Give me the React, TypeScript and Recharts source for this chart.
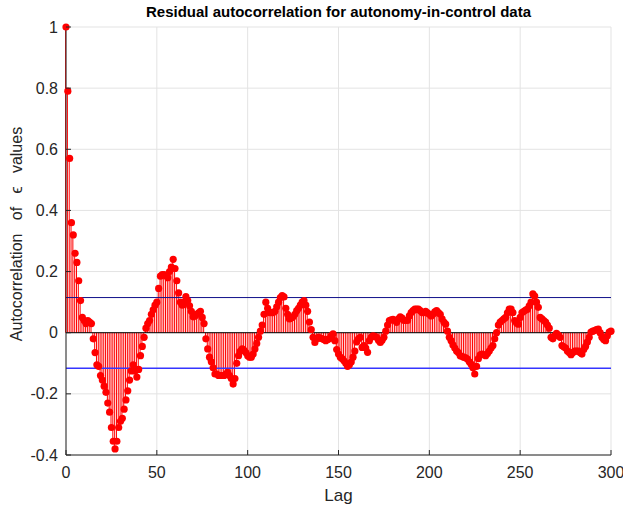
import React from "react";
import { ComposedChart, Bar, Line, XAxis, YAxis, CartesianGrid, ReferenceLine } from "recharts";

const acf0to49 = [
  1.0, 0.79, 0.57, 0.36, 0.32, 0.26, 0.23, 0.17, 0.105, 0.05,
  0.04, 0.03, 0.04, 0.035, 0.03, -0.02, -0.065, -0.105, -0.11, -0.14,
  -0.155, -0.175, -0.195, -0.23, -0.26, -0.31, -0.355, -0.38, -0.355, -0.31,
  -0.29, -0.28, -0.25, -0.22, -0.19, -0.155, -0.125, -0.105, -0.125, -0.145,
  -0.12, -0.075, -0.045, -0.015, 0.015, 0.03, 0.04, 0.06, 0.075, 0.09,
];
const acf50to99 = [
  0.1, 0.145, 0.185, 0.19, 0.19, 0.187, 0.18, 0.2, 0.215, 0.24,
  0.21, 0.17, 0.13, 0.1, 0.09, 0.1, 0.118, 0.105, 0.088, 0.07,
  0.052, 0.055, 0.06, 0.065, 0.07, 0.05, 0.03, -0.02, -0.053, -0.08,
  -0.095, -0.115, -0.135, -0.135, -0.14, -0.14, -0.14, -0.14, -0.135, -0.13,
  -0.14, -0.15, -0.168, -0.15, -0.1, -0.075, -0.06, -0.053, -0.058, -0.065,
];
const acf100to149 = [
  -0.075, -0.08, -0.08, -0.07, -0.053, -0.035, -0.015, 0.005, 0.025, 0.06,
  0.1, 0.08, 0.066, 0.066, 0.066, 0.07, 0.085, 0.1, 0.115, 0.121,
  0.117, 0.08, 0.06, 0.045, 0.048, 0.052, 0.06, 0.072, 0.08, 0.09,
  0.1, 0.105, 0.09, 0.07, 0.035, 0.01, -0.015, -0.032, -0.02, -0.015,
  -0.018, -0.02, -0.022, -0.026, -0.022, -0.02, -0.01, -0.004, -0.026, -0.055,
];
const acf150to199 = [
  -0.07, -0.08, -0.085, -0.092, -0.1, -0.11, -0.105, -0.096, -0.08, -0.06,
  -0.03, -0.02, -0.015, -0.048, -0.042, -0.05, -0.064, -0.026, -0.015, -0.01,
  -0.012, -0.015, -0.025, -0.032, -0.025, -0.015, 0.005, 0.025, 0.04, 0.042,
  0.044, 0.04, 0.034, 0.045, 0.052, 0.048, 0.04, 0.04, 0.04, 0.055,
  0.066, 0.072, 0.077, 0.077, 0.077, 0.072, 0.066, 0.066, 0.07, 0.065,
];
const acf200to249 = [
  0.06, 0.055, 0.06, 0.068, 0.072, 0.066, 0.06, 0.045, 0.035, 0.028,
  0.005, -0.015, -0.026, -0.04, -0.05, -0.06, -0.065, -0.075, -0.078, -0.08,
  -0.082, -0.086, -0.095, -0.103, -0.115, -0.135, -0.11, -0.085, -0.072, -0.07,
  -0.072, -0.075, -0.068, -0.06, -0.05, -0.042, -0.02, 0.0, 0.025, 0.035,
  0.04, 0.045, 0.05, 0.065, 0.077, 0.077, 0.066, 0.04, 0.032, 0.028,
];
const acf250to300 = [
  0.05, 0.066, 0.07, 0.074, 0.077, 0.088, 0.1, 0.127, 0.12, 0.1,
  0.083, 0.05, 0.045, 0.04, 0.035, 0.025, 0.015, -0.015, -0.02, -0.01,
  -0.002, -0.008, -0.015, -0.042, -0.046, -0.05, -0.06, -0.065, -0.072, -0.065,
  -0.06, -0.06, -0.06, -0.065, -0.07, -0.055, -0.045, -0.03, -0.015, 0.002,
  0.005, 0.007, 0.01, 0.012, 0.0, -0.015, -0.022, -0.026, -0.01, 0.002,
  0.005,
];

const acfValues = [...acf0to49, ...acf50to99, ...acf100to149, ...acf150to199, ...acf200to249, ...acf250to300];
const confUpper = 0.115;
const confLower = -0.116;

const xTicks = [0, 50, 100, 150, 200, 250, 300];
const yTicks = [-0.4, -0.2, 0, 0.2, 0.4, 0.6, 0.8, 1];

const titleText = "Residual autocorrelation for autonomy-in-control data";
const yLabelText = "Autocorrelation\u00a0\u00a0\u00a0of\u00a0\u00a0\u00a0\u03f5\u00a0\u00a0\u00a0values";
const xLabelText = "Lag";

const data = acfValues.map((v, i) => ({ lag: i, acf: v }));

const FONT = "'Liberation Sans', Arial, Helvetica, sans-serif";
const AXIS = "#262626";

const YTickLeft = (props: any) => {
  const { x, y, payload } = props;
  return (
    <g>
      <text x={x - 8} y={y} dy={5.5} textAnchor="end" fill={AXIS} fontSize={16} fontFamily={FONT}>
        {String(payload.value)}
      </text>
      <line x1={x} x2={x + 5} y1={y} y2={y} stroke={AXIS} strokeWidth={1} />
    </g>
  );
};

const YTickRight = (props: any) => {
  const { x, y } = props;
  return <line x1={x - 5} x2={x} y1={y} y2={y} stroke={AXIS} strokeWidth={1} />;
};

const XTickBottom = (props: any) => {
  const { x, y, payload } = props;
  return (
    <g>
      <text x={x} y={y} dy={23} textAnchor="middle" fill={AXIS} fontSize={16} fontFamily={FONT}>
        {String(payload.value)}
      </text>
      <line x1={x} x2={x} y1={y} y2={y - 5} stroke={AXIS} strokeWidth={1} />
    </g>
  );
};

const XTickTop = (props: any) => {
  const { x, y } = props;
  return <line x1={x} x2={x} y1={y} y2={y + 5} stroke={AXIS} strokeWidth={1} />;
};

const YLabel = (props: any) => {
  const vb = props.viewBox || {};
  const cx = 22;
  const cy = (vb.y ?? 27) + (vb.height ?? 428) / 2 - 7;
  return (
    <text
      x={cx}
      y={cy}
      transform={`rotate(-90, ${cx}, ${cy})`}
      textAnchor="middle"
      fill={AXIS}
      fontSize={16}
      fontFamily={FONT}
    >
      {yLabelText}
    </text>
  );
};

export default function App() {
  return (
    <div style={{ position: "absolute", left: 0, top: 0, width: 623, height: 506, background: "#fff" }}>
      <ComposedChart
        width={623}
        height={506}
        data={data}
        margin={{ top: 27, right: 12, bottom: 0, left: 0 }}
      >
        <CartesianGrid stroke="#e3e3e3" strokeWidth={1} vertical={true} horizontal={true} xAxisId="b" yAxisId="l" />
        <XAxis
          xAxisId="b"
          dataKey="lag"
          type="number"
          domain={[0, 300]}
          ticks={xTicks}
          height={51}
          tickSize={0}
          tickMargin={0}
          tick={<XTickBottom />}
          axisLine={{ stroke: AXIS }}
          label={{ value: xLabelText, position: "insideBottom", offset: 5, fill: AXIS, fontSize: 17, fontFamily: FONT }}
        />
        <XAxis
          xAxisId="t"
          dataKey="lag"
          type="number"
          orientation="top"
          domain={[0, 300]}
          ticks={xTicks}
          height={0}
          tickSize={0}
          tickMargin={0}
          tick={<XTickTop />}
          axisLine={{ stroke: AXIS }}
        />
        <YAxis
          yAxisId="l"
          type="number"
          domain={[-0.4, 1]}
          ticks={yTicks}
          width={66}
          tickSize={0}
          tickMargin={0}
          tick={<YTickLeft />}
          axisLine={{ stroke: AXIS }}
          label={<YLabel />}
        />
        <YAxis
          yAxisId="r"
          type="number"
          orientation="right"
          domain={[-0.4, 1]}
          ticks={yTicks}
          width={0}
          tickSize={0}
          tickMargin={0}
          tick={<YTickRight />}
          axisLine={{ stroke: AXIS }}
        />
        <Bar
          xAxisId="b"
          yAxisId="l"
          dataKey="acf"
          barSize={1}
          fill="#ff0000"
          isAnimationActive={false}
        />
        <ReferenceLine xAxisId="b" yAxisId="l" y={0} stroke="#000000" strokeWidth={1} />
        <ReferenceLine xAxisId="b" yAxisId="l" y={confUpper} stroke="#10108a" strokeWidth={1} />
        <ReferenceLine xAxisId="b" yAxisId="l" y={confLower} stroke="#3535ff" strokeWidth={1.5} />
        <Line
          xAxisId="b"
          yAxisId="l"
          dataKey="acf"
          stroke="none"
          dot={{ r: 3.6, fill: "#ff0000", stroke: "#ff0000", strokeWidth: 0 }}
          activeDot={false}
          isAnimationActive={false}
        />
      </ComposedChart>
      <div
        style={{
          position: "absolute",
          left: 66,
          width: 545,
          top: 3,
          textAlign: "center",
          fontFamily: FONT,
          fontWeight: "bold",
          fontSize: 15,
          color: "#000",
          whiteSpace: "nowrap",
        }}
      >
        {titleText}
      </div>
    </div>
  );
}
